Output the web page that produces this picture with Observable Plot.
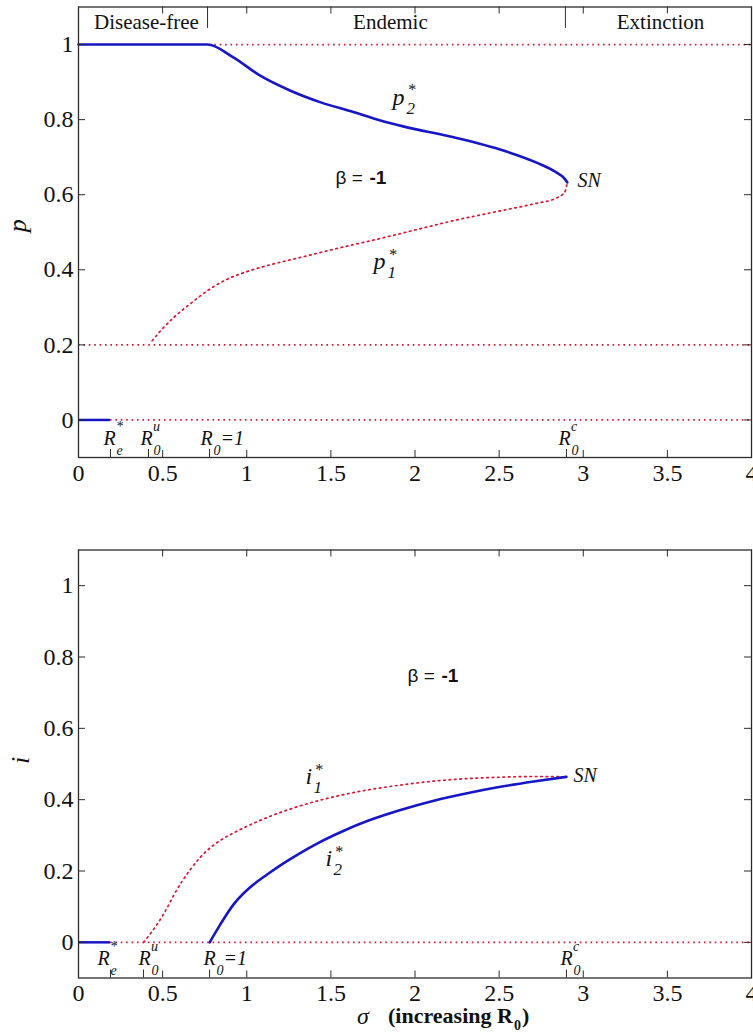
<!DOCTYPE html>
<html>
<head>
<meta charset="utf-8">
<script src="https://cdn.jsdelivr.net/npm/d3@7"></script>
<script src="https://cdn.jsdelivr.net/npm/@observablehq/plot@0.6"></script>
<style>
  html, body { margin: 0; padding: 0; background: #fff; }
  #chart { width: 753px; }
  #chart svg { display: block; }
</style>
</head>
<body>
<div id="chart"></div>
<script>
// ---- shared axes -------------------------------------------------------
const sigmaTicks = [0, 0.5, 1, 1.5, 2, 2.5, 3, 3.5, 4];
const levelTicks = [0, 0.2, 0.4, 0.6, 0.8, 1];

// ---- upper panel: fraction p ------------------------------------------
// stable branch p2* (continues the disease-free state p = 1)
const p2Sigma = [0, 0.767, 0.92, 1.08, 1.26, 1.44, 1.62, 1.8, 1.93, 2.23, 2.53, 2.73, 2.845, 2.885, 2.905];
const p2Value = [1, 1, 0.966, 0.917, 0.877, 0.846, 0.822, 0.797, 0.782, 0.753, 0.717, 0.684, 0.658, 0.645, 0.633];
// unstable branch p1*
const p1Sigma = [0.438, 0.487, 0.566, 0.666, 0.785, 0.884, 1.0, 1.12, 1.32, 1.52, 1.79, 2.0, 2.23, 2.53, 2.71, 2.845, 2.89, 2.905];
const p1Value = [0.211, 0.237, 0.273, 0.31, 0.35, 0.375, 0.395, 0.411, 0.433, 0.455, 0.483, 0.506, 0.531, 0.559, 0.576, 0.592, 0.607, 0.633];
// constant equilibria: unstable (dotted) and stable (solid)
const pUnstableFlat = [{from: 0.81, to: 4, level: 1}, {from: 0, to: 4, level: 0.2}, {from: 0.19, to: 4, level: 0}];
const pStableFlat = [{from: 0, to: 0.19, level: 0}];

// ---- lower panel: fraction i ------------------------------------------
const i1Sigma = [0.388, 0.43, 0.468, 0.527, 0.566, 0.666, 0.725, 0.824, 0.923, 1.0, 1.121, 1.32, 1.517, 1.716, 1.914, 2.112, 2.31, 2.508, 2.7, 2.9];
const i1Value = [0, 0.026, 0.051, 0.097, 0.132, 0.205, 0.239, 0.28, 0.307, 0.325, 0.35, 0.383, 0.408, 0.427, 0.441, 0.452, 0.459, 0.463, 0.465, 0.464];
const i2Sigma = [0.78, 0.844, 0.923, 1.022, 1.121, 1.22, 1.32, 1.418, 1.577, 1.716, 1.914, 2.112, 2.31, 2.508, 2.706, 2.9];
const i2Value = [0, 0.051, 0.107, 0.155, 0.19, 0.222, 0.251, 0.277, 0.313, 0.34, 0.371, 0.397, 0.418, 0.436, 0.451, 0.464];
const iUnstableFlat = [{from: 0.19, to: 4, level: 0}];
const iStableFlat = [{from: 0, to: 0.19, level: 0}];

// ---- regimes and thresholds -------------------------------------------
const regimes = ["Disease-free", "Endemic", "Extinction"];
const regimeCenters = [0.404, 1.854, 3.459];
const regimeBounds = [0.767, 2.894];
const thresholdsTop = [0.19, 0.416, 0.779, 2.9];
const thresholdsBottom = [0.19, 0.386, 0.779, 2.9];
const thresholdSub = ["e", "0", "0", "0"];
const thresholdSup = ["*", "u", "", "c"];
const thresholdTail = ["", "", "=1", ""];
const thresholdLabelTop = [0.149, 0.368, 0.725, 2.853];
const thresholdLabelBottom = [0.113, 0.357, 0.743, 2.865];

// ---- layout --------------------------------------------------------------
const W = 753, ML = 78, MR = 2;
const pxX = (W - ML - MR) / 4;
const ink = "#2b2b2b";
const red = "#d81830";
const blue = "#1616c4";
const serif = "'Liberation Serif', 'Times New Roman', serif";
const sans = "'Liberation Sans', Arial, sans-serif";

const zip = (xs, ys) => xs.map((s, k) => ({s, v: ys[k]}));

function frameMarks(pxY) {
  const ty = 7 / pxY, tx = 7 / pxX;
  return [
    Plot.ruleX(sigmaTicks, {x: d => d, y1: -0.1, y2: -0.1 + ty, stroke: ink}),
    Plot.ruleX(sigmaTicks, {x: d => d, y1: 1.1 - ty, y2: 1.1, stroke: ink}),
    Plot.ruleY(levelTicks, {y: d => d, x1: 0, x2: tx, stroke: ink}),
    Plot.ruleY(levelTicks, {y: d => d, x1: 4 - tx, x2: 4, stroke: ink}),
    Plot.frame({stroke: ink, strokeWidth: 1.3})
  ];
}

function thresholdMarks(pxY, tickSigma, labelSigma, yRow) {
  const rows = tickSigma.map((t, k) => ({
    t, x: labelSigma[k], sub: thresholdSub[k], sup: thresholdSup[k], tail: thresholdTail[k]
  }));
  const common = {x: "x", y: () => yRow, textAnchor: "start", fontStyle: "italic", fontFamily: serif, fill: "#111"};
  return [
    Plot.ruleX(rows, {x: "t", y1: -0.1, y2: -0.1 + 8 / pxY, stroke: ink}),
    Plot.text(rows, {...common, text: () => "R", fontSize: 20}),
    Plot.text(rows, {...common, text: "sub", fontSize: 14, dx: 13, dy: 12}),
    Plot.text(rows, {...common, text: "sup", fontSize: 14, dx: 12.5, dy: -12}),
    Plot.text(rows, {...common, text: "tail", fontSize: 20, dx: 20})
  ];
}

// italic symbol with a subscript index and a starred superscript
function starLabel(x, y, base, sub, shift) {
  const o = {x: () => x, y: () => y, textAnchor: "start", fontStyle: "italic", fontFamily: serif, fill: "#111"};
  return [
    Plot.text([0], {...o, text: () => base, fontSize: 24}),
    Plot.text([0], {...o, text: () => sub, fontSize: 17, dx: shift, dy: 11}),
    Plot.text([0], {...o, text: () => "*", fontSize: 16, dx: shift + 1, dy: -7})
  ];
}

function betaLabel(x, y) {
  const o = {x: () => x, y: () => y, textAnchor: "start", fontFamily: sans, fontSize: 19, fill: "#111"};
  return [
    Plot.text([0], {...o, text: () => "\u03b2 ="}),
    Plot.text([0], {...o, text: () => "-1", fontWeight: "bold", dx: 34})
  ];
}

function snLabel(x, y) {
  return Plot.text([0], {x: () => x, y: () => y, text: () => "SN", textAnchor: "start",
    fontStyle: "italic", fontFamily: serif, fontSize: 20, fill: "#111"});
}

function axesMarks(padX) {
  return [
    Plot.axisX(sigmaTicks, {tickSize: 0, tickPadding: padX, tickFormat: d => `${d}`, label: null, fill: "#111"}),
    Plot.axisY(levelTicks, {tickSize: 0, tickPadding: 5, tickFormat: d => `${d}`, label: null, fill: "#111"})
  ];
}

// ---- upper panel ------------------------------------------------------------
const H1 = 505, MT1 = 6.5, MB1 = 48;
const pxY1 = (H1 - MT1 - MB1) / 1.2;
const upperPanel = Plot.plot({
  width: W, height: H1,
  marginLeft: ML, marginRight: MR, marginTop: MT1, marginBottom: MB1,
  style: {fontFamily: serif, fontSize: "24px", background: "#fff", color: "#111", overflow: "visible"},
  x: {domain: [0, 4]},
  y: {domain: [-0.1, 1.1]},
  marks: [
    Plot.ruleY(pUnstableFlat, {y: "level", x1: "from", x2: "to", stroke: red, strokeWidth: 1.7, strokeDasharray: "1.6 3.8"}),
    Plot.ruleY(pStableFlat, {y: "level", x1: "from", x2: "to", stroke: blue, strokeWidth: 2.5}),
    Plot.line(zip(p1Sigma, p1Value), {x: "s", y: "v", stroke: red, strokeWidth: 1.7, strokeDasharray: "1.6 3.8", curve: "monotone-x"}),
    Plot.line(zip(p2Sigma, p2Value), {x: "s", y: "v", stroke: blue, strokeWidth: 2.6, curve: "monotone-x"}),
    Plot.ruleX(regimeBounds, {x: d => d, y1: 1.043, y2: 1.1, stroke: ink}),
    Plot.text(regimes, {x: (d, k) => regimeCenters[k], y: () => 1.059, text: d => d, fontSize: 21, fontFamily: serif, fill: "#111"}),
    ...starLabel(1.866, 0.86, "p", "2", 14),
    ...starLabel(1.753, 0.422, "p", "1", 14),
    ...betaLabel(1.527, 0.646),
    snLabel(2.966, 0.638),
    ...thresholdMarks(pxY1, thresholdsTop, thresholdLabelTop, -0.05),
    Plot.text(["p"], {frameAnchor: "left", dx: -61, rotate: -90, fontStyle: "italic", fontSize: 26, fontFamily: serif, fill: "#111"}),
    ...frameMarks(pxY1),
    ...axesMarks(6)
  ]
});

// ---- lower panel ------------------------------------------------------------
const H2 = 531, MT2 = 44.5, MB2 = 58.5;
const pxY2 = (H2 - MT2 - MB2) / 1.2;
const lowerPanel = Plot.plot({
  width: W, height: H2,
  marginLeft: ML, marginRight: MR, marginTop: MT2, marginBottom: MB2,
  style: {fontFamily: serif, fontSize: "24px", background: "#fff", color: "#111", overflow: "visible"},
  x: {domain: [0, 4]},
  y: {domain: [-0.1, 1.1]},
  marks: [
    Plot.ruleY(iUnstableFlat, {y: "level", x1: "from", x2: "to", stroke: red, strokeWidth: 1.7, strokeDasharray: "1.6 3.8"}),
    Plot.ruleY(iStableFlat, {y: "level", x1: "from", x2: "to", stroke: blue, strokeWidth: 2.5}),
    Plot.line(zip(i1Sigma, i1Value), {x: "s", y: "v", stroke: red, strokeWidth: 1.7, strokeDasharray: "1.6 3.8", curve: "monotone-x"}),
    Plot.line(zip(i2Sigma, i2Value), {x: "s", y: "v", stroke: blue, strokeWidth: 2.6, curve: "monotone-x"}),
    ...starLabel(1.349, 0.465, "i", "1", 8),
    ...starLabel(1.468, 0.235, "i", "2", 8),
    ...betaLabel(1.955, 0.748),
    snLabel(2.942, 0.468),
    ...thresholdMarks(pxY2, thresholdsBottom, thresholdLabelBottom, -0.045),
    Plot.text(["i"], {frameAnchor: "left", dx: -58, rotate: -90, fontStyle: "italic", fontSize: 26, fontFamily: serif, fill: "#111"}),
    // x-axis title: σ (increasing R0)
    Plot.text(["\u03c3"], {frameAnchor: "bottom", dx: -52, dy: 46, fontStyle: "italic", fontSize: 24, fontFamily: serif, fill: "#111"}),
    Plot.text(["(increasing R"], {frameAnchor: "bottom", dx: -27, dy: 45, textAnchor: "start", fontWeight: "bold", fontSize: 22, fontFamily: serif, fill: "#111"}),
    Plot.text(["0"], {frameAnchor: "bottom", dx: 99, dy: 52, textAnchor: "start", fontWeight: "bold", fontSize: 14, fontFamily: serif, fill: "#111"}),
    Plot.text([")"], {frameAnchor: "bottom", dx: 107, dy: 45, textAnchor: "start", fontWeight: "bold", fontSize: 22, fontFamily: serif, fill: "#111"}),
    ...frameMarks(pxY2),
    ...axesMarks(6)
  ]
});

document.getElementById("chart").append(upperPanel, lowerPanel);
</script>
</body>
</html>
